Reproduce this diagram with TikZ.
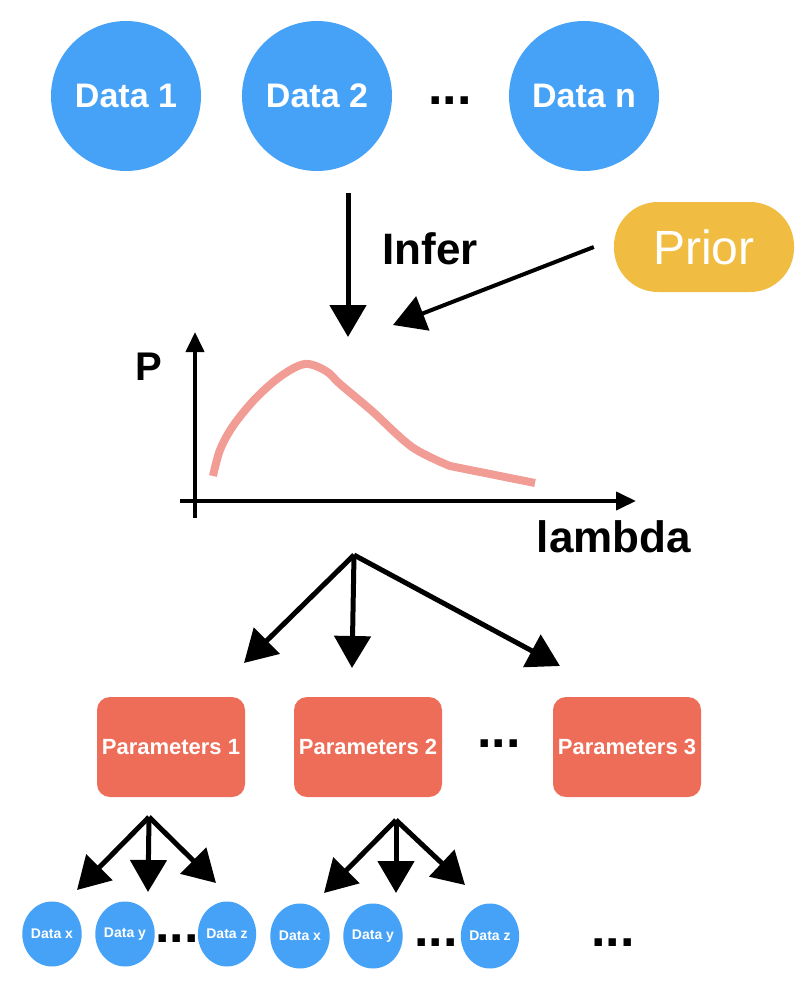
\documentclass[tikz,border=0pt]{standalone}
\usepackage{fontspec}
\setmainfont{Liberation Sans}
\usetikzlibrary{arrows.meta,positioning,shapes.geometric}
\definecolor{Dc}{HTML}{46A2F6}
\definecolor{Pc}{HTML}{EE6D58}
\definecolor{Yc}{HTML}{F0BD42}
\definecolor{Cc}{HTML}{F19C94}
\tikzset{
  dbig/.style={circle, fill=Dc, text=white, inner sep=0pt, minimum size=150pt, font=\bfseries\fontsize{34}{34}\selectfont},
  dsmall/.style={ellipse, fill=Dc, text=white, inner sep=0pt, minimum width=58pt, minimum height=65pt, font=\bfseries\fontsize{14}{14}\selectfont},
  pbox/.style={rectangle, rounded corners=13pt, fill=Pc, text=white, minimum width=148pt, minimum height=100pt, font=\bfseries\fontsize{22}{22}\selectfont},
  prior/.style={rectangle, rounded corners=44pt, fill=Yc, text=white, minimum width=180pt, minimum height=90pt, font=\fontsize{48}{48}\selectfont},
  lbl/.style={inner sep=0pt, font=\bfseries\fontsize{44}{44}\selectfont},
  dots/.style={inner sep=0pt, font=\bfseries\fontsize{52}{52}\selectfont},
  link/.style={-{Triangle[length=32pt,width=36pt]}, line width=5pt},
  axis/.style={-{Triangle[length=20pt,width=18pt]}, line width=4pt},
  curve/.style={Cc, line width=8pt},
}

\begin{document}
\begin{tikzpicture}[x=1pt, y=-1pt]
  \useasboundingbox (0,0) rectangle (806,998);
  % data on top
  \node[dbig] (d1) at (126,96) {Data 1};
  \node[dbig] (d2) at (317,96) {Data 2};
  \node[dots] (dtop) at (450,101) {...};
  \node[dbig] (dn) at (584,96) {Data n};
  % inference
  \node[prior] (prior) at (704,247) {Prior};
  \node[lbl] (infer) at (430,249) {Infer};
  \coordinate (infertop) at (348,193);
  \coordinate (infertip) at (348,337);
  \coordinate (priortip) at (393,325);
  \draw[link] (infertop) -- (infertip);
  \draw[link, line width=4pt] ([xshift=-20pt]prior.west) -- (priortip);
  % posterior plot
  \draw[axis] (195,518) -- (195,332);
  \draw[axis] (180,501) -- (636,501);
  \node[lbl, font=\bfseries\fontsize{40}{40}\selectfont] (pl) at (149,367) {P};
  \node[lbl] (lam) at (614,537) {lambda};
  \draw[curve] plot[smooth, tension=0.55] coordinates {(213,476) (220,450) (233,426) (255,399) (281,376) (305,364) (326,371) (340,384) (372,411) (412,447) (450,466)} -- (535,483);
  % parameters
  \node[pbox] (p1) at (171,747) {Parameters 1};
  \node[pbox] (p2) at (368,747) {Parameters 2};
  \node[dots] (pdots) at (499,744) {...};
  \node[pbox] (p3) at (627,747) {Parameters 3};
  \coordinate (fork) at (354,555);
  \coordinate (t1) at (244,663);
  \coordinate (t2) at (352,668);
  \coordinate (t3) at (560,666);
  \foreach \t in {t1,t2,t3} \draw[link] (fork) -- (\t);
  % data per parameter set
  \node[dsmall] (a1) at (52,934) {Data x};
  \node[dsmall] (a2) at (125,934) {Data y};
  \node[dots] (adots) at (177,939) {...};
  \node[dsmall] (a3) at (227,934) {Data z};
  \node[dsmall] (b1) at (300,936) {Data x};
  \node[dsmall] (b2) at (373,936) {Data y};
  \node[dots] (bdots) at (436,943) {...};
  \node[dsmall] (b3) at (490,936) {Data z};
  \node[dots] (cdots) at (613,943) {...};
  \coordinate (fa) at (149,817);
  \coordinate (ta1) at (77,890);
  \coordinate (ta2) at (148,892);
  \coordinate (ta3) at (216,883);
  \coordinate (fb) at (396,820);
  \coordinate (tb1) at (324,893);
  \coordinate (tb2) at (396,893);
  \coordinate (tb3) at (465,885);
  \foreach \t in {ta1,ta2,ta3} \draw[link] (fa) -- (\t);
  \foreach \t in {tb1,tb2,tb3} \draw[link] (fb) -- (\t);
\end{tikzpicture}
\end{document}
